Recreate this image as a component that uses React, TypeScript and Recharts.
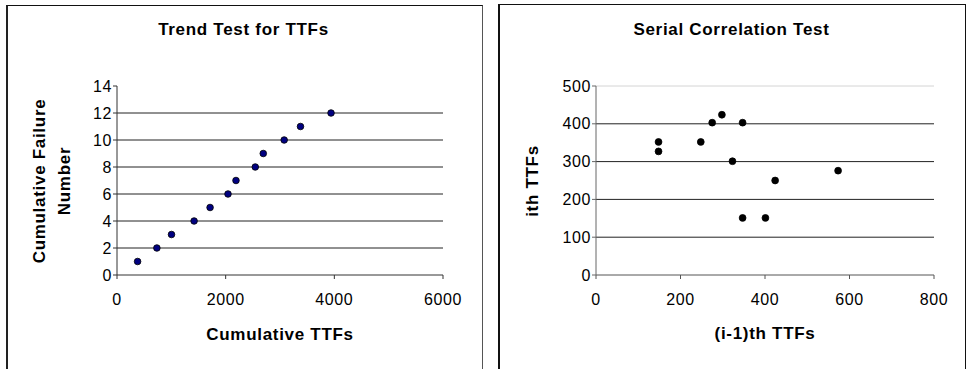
import React from "react";
import {
  ScatterChart, Scatter, XAxis, YAxis, ReferenceLine,
} from "recharts";

// Trend test: cumulative TTF vs cumulative failure number
const cumTTF = [379, 734, 1003, 1419, 1713, 2043, 2190, 2545, 2692, 3077, 3377, 3939];
const cumFailures = [1, 2, 3, 4, 5, 6, 7, 8, 9, 10, 11, 12];
const trendXTicks = [0, 2000, 4000, 6000];
const trendYTicks = [0, 2, 4, 6, 8, 10, 12, 14];

// Serial correlation: (i-1)th TTF vs ith TTF
const prevTTF = [148, 148, 248, 275, 298, 347, 323, 424, 347, 401, 573];
const currTTF = [352, 327, 352, 403, 424, 403, 301, 250, 151, 151, 276];
const serialXTicks = [0, 200, 400, 600, 800];
const serialYTicks = [0, 100, 200, 300, 400, 500];

const trendData = cumTTF.map((x, i) => ({ x, y: cumFailures[i] }));
const serialData = prevTTF.map((x, i) => ({ x, y: currTTF[i] }));

const FONT = '"Liberation Sans", Arial, sans-serif';
const tickStyle = { fontSize: 16, fill: "#000", fontFamily: FONT, letterSpacing: 0.6 };

const dot = (fill: string, r: number) => (props: any) => (
  <circle cx={props.cx} cy={props.cy} r={r} fill={fill} stroke="#000" strokeWidth={0.8} />
);

export default function App() {
  const titleStyle = { fontFamily: FONT, fontWeight: 700, fontSize: 17, letterSpacing: 0.7 } as const;
  return (
    <div style={{ position: "absolute", left: 0, top: 0, width: 966, height: 369, background: "#fff", overflow: "hidden" }}>
      {/* panel frames */}
      <div style={{ position: "absolute", left: 6, top: 5, width: 474, height: 400, borderLeft: "2px solid #222", borderTop: "1px solid #111", borderRight: "1px solid #555" }} />
      <div style={{ position: "absolute", left: 498, top: 4, width: 465, height: 400, borderLeft: "2px solid #111", borderTop: "1px solid #111", borderRight: "2px solid #111" }} />

      <div style={{ position: "absolute", left: 0, top: 0 }}>
        <ScatterChart width={482} height={369} margin={{ top: 86, right: 39, bottom: 64, left: 57 }}>
          <XAxis
            type="number" dataKey="x" domain={[0, 6000]} ticks={trendXTicks}
            height={30} tickSize={4} tickMargin={15} tick={tickStyle}
            axisLine={{ stroke: "#333" }} tickLine={{ stroke: "#333" }} interval={0}
          />
          <YAxis
            type="number" dataKey="y" domain={[0, 14]} ticks={trendYTicks}
            width={60} tickSize={4} tickMargin={1} tick={tickStyle}
            axisLine={{ stroke: "#333" }} tickLine={{ stroke: "#333" }} interval={0}
          />
          {trendYTicks.slice(1, -1).map((v) => (
            <ReferenceLine key={v} y={v} stroke="#222" strokeWidth={1} />
          ))}
          <Scatter data={trendData} fill="#000080" shape={dot("#000080", 3.3)} isAnimationActive={false} />
        </ScatterChart>
      </div>

      <div style={{ position: "absolute", left: 482, top: 0 }}>
        <ScatterChart width={484} height={369} margin={{ top: 86, right: 32, bottom: 64, left: 54 }}>
          <XAxis
            type="number" dataKey="x" domain={[0, 800]} ticks={serialXTicks}
            height={30} tickSize={4} tickMargin={15} tick={tickStyle}
            axisLine={{ stroke: "#555" }} tickLine={{ stroke: "#555" }} interval={0}
          />
          <YAxis
            type="number" dataKey="y" domain={[0, 500]} ticks={serialYTicks}
            width={60} tickSize={4} tickMargin={1} tick={tickStyle}
            axisLine={{ stroke: "#666" }} tickLine={{ stroke: "#666" }} interval={0}
          />
          {serialYTicks.slice(1).map((v, i, arr) => (
            <ReferenceLine key={v} y={v} stroke={i === arr.length - 1 ? "#d4d4d4" : "#222"} strokeWidth={1} />
          ))}
          <Scatter data={serialData} fill="#000" shape={dot("#000", 3.4)} isAnimationActive={false} />
        </ScatterChart>
      </div>

      {/* titles and axis labels */}
      <svg width={966} height={369} style={{ position: "absolute", left: 0, top: 0, pointerEvents: "none" }}>
        <text x={243.5} y={35} textAnchor="middle" style={titleStyle}>Trend Test for TTFs</text>
        <text x={731.5} y={35} textAnchor="middle" style={titleStyle}>Serial Correlation Test</text>
        <text x={280} y={340} textAnchor="middle" style={titleStyle}>Cumulative TTFs</text>
        <text x={765} y={339} textAnchor="middle" style={titleStyle}>(i-1)th TTFs</text>
        <text transform="translate(45,181) rotate(-90)" textAnchor="middle" style={titleStyle}>Cumulative Failure</text>
        <text transform="translate(70,181) rotate(-90)" textAnchor="middle" style={titleStyle}>Number</text>
        <text transform="translate(538,181) rotate(-90)" textAnchor="middle" style={titleStyle}>ith TTFs</text>
      </svg>
    </div>
  );
}
